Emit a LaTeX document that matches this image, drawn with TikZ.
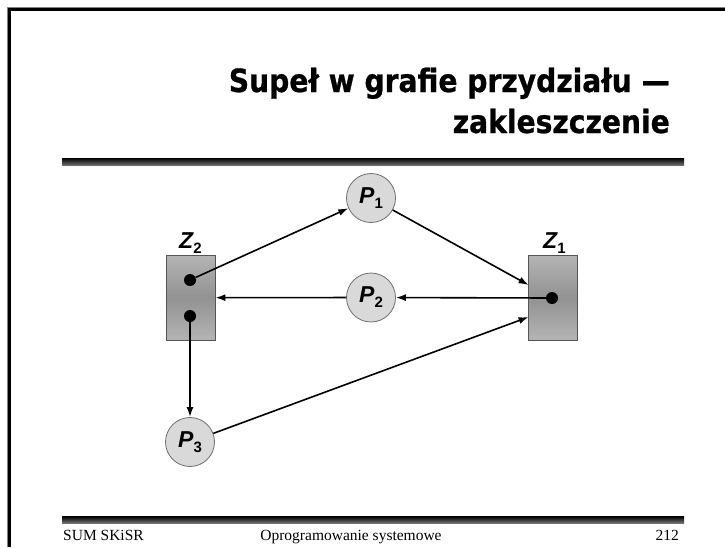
\documentclass[tikz,border=0pt]{standalone}
\usepackage{fontspec}
\setmainfont{Liberation Serif}
\newfontfamily\lsans{Liberation Sans}
\newfontfamily\titlefont{DejaVu Sans}[FakeStretch=0.88, FakeBold=0.8]
\usetikzlibrary{arrows.meta}
\newcommand{\plab}[2]{{\lsans\bfseries\itshape\fontsize{23}{23}\selectfont #1}\raisebox{-5pt}{\lsans\bfseries\fontsize{15}{15}\selectfont #2}}
\definecolor{procfill}{HTML}{D9D9D9}
\definecolor{procline}{HTML}{6E6E6E}
\definecolor{resedge}{HTML}{B4B4B4}
\definecolor{resmid}{HTML}{929292}
\definecolor{resline}{HTML}{555555}
\tikzset{
  titlestyle/.style={inner sep=0pt, font=\titlefont\bfseries\fontsize{32}{32}\selectfont},
  foot/.style={inner sep=0pt, font=\fontsize{15.5}{15.5}\selectfont},
  proc/.style={circle, draw=procline, line width=0.8pt, fill=procfill, minimum size=49pt, inner sep=0pt},
  res/.style={rectangle, draw=resline, line width=0.8pt, top color=resedge, bottom color=resedge, middle color=resmid, minimum width=49pt, minimum height=85pt, inner sep=0pt},
  dot/.style={circle, fill=black, minimum size=12pt, inner sep=0pt},
  arr/.style={line width=1.6pt, -{Latex[length=10pt,width=7pt]}},
  rlabel/.style={inner sep=0pt, anchor=base west}
}
\begin{document}
\begin{tikzpicture}[x=1pt,y=-1pt]
\useasboundingbox (0,0) rectangle (725,547);
\fill[white] (0,0) rectangle (725,547);
% frame
\draw[gray, line width=1pt] (7.5,547) -- (7.5,7.5) -- (725,7.5);
\draw[black, line width=3pt] (9.5,547) -- (9.5,9.5) -- (725,9.5);
% title
\node[titlestyle, anchor=base east] (t1) at (670,92) {Supeł w grafie przydziału —};
\node[titlestyle, anchor=base east] (t2) at (670,133) {zakleszczenie};
% rules
\shade[top color=black, bottom color=black!55] (62,158) rectangle (684,165.5);
\shade[top color=black, bottom color=black!55] (62,516.5) rectangle (684,523);
% footer
\node[foot, anchor=base west] (f1) at (63,540) {SUM SKiSR};
\node[foot, anchor=base] (f2) at (351,540) {Oprogramowanie systemowe};
\node[foot, anchor=base east] (f3) at (679,540) {212};
% resources
\node[res] (z2) at (190.5,297.7) {};
\node[res] (z1) at (553,297.7) {};
\node[rlabel] (z2l) at (179,248) {\plab{Z}{2}};
\node[rlabel] (z1l) at (543,248) {\plab{Z}{1}};
\node[dot] (d2a) at (190,280) {};
\node[dot] (d2b) at (190,316) {};
\node[dot] (d1) at (552,298) {};
% processes
\node[proc] (p1) at (371,198) {\plab{P}{1}};
\node[proc] (p2) at (371,297.5) {\plab{P}{2}};
\node[proc] (p3) at (190,442) {\plab{P}{3}};
\coordinate (z1a) at (528.6,285);
\coordinate (z1b) at (528.6,317);
% edges
\draw[arr] (d2a) -- (p1);
\draw[arr] (p1) -- (z1a);
\draw[arr] (d1) -- (p2);
\draw[arr] (p2) -- (z2);
\draw[arr] (d2b) -- (p3);
\draw[arr] (p3) -- (z1b);
\end{tikzpicture}
\end{document}
